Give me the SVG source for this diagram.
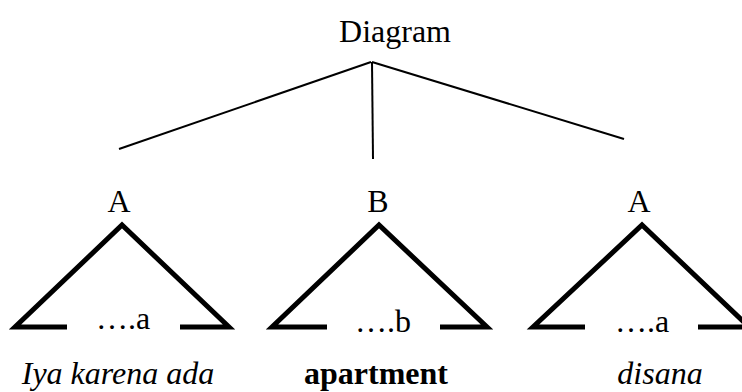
<svg xmlns="http://www.w3.org/2000/svg" width="742" height="392" viewBox="0 0 742 392">
<style>
text{font-family:"Liberation Serif","Times New Roman",serif;font-size:32px;fill:#000;text-anchor:middle}
.it{font-style:italic}
.bd{font-weight:bold}
.conn{stroke:#000;stroke-width:2;fill:none}
.tri{stroke:#000;stroke-width:5;fill:none;stroke-linejoin:miter}
</style>
<rect width="742" height="392" fill="#fff"/>
<g id="root"><text x="395" y="42">Diagram</text></g>
<g id="connectors">
<line class="conn" x1="371" y1="62" x2="119" y2="149"/>
<line class="conn" x1="372" y1="62" x2="373" y2="159"/>
<line class="conn" x1="372" y1="62" x2="624" y2="139"/>
</g>
<g id="nodeA1">
<text x="119" y="212">A</text>
<path class="tri" d="M67,327 L15,327 L122,225 L229,327 L180,327"/>
<text x="123" y="329">….a</text>
<text class="it" x="118" y="384">Iya karena ada</text>
</g>
<g id="nodeB">
<text x="378" y="212">B</text>
<path class="tri" d="M327,327 L272,327 L379,225 L487,327 L440,327"/>
<text x="383" y="332">….b</text>
<text class="bd" x="376" y="384">apartment</text>
</g>
<g id="nodeA2">
<text x="639" y="212">A</text>
<path class="tri" d="M585,327 L533,327 L642,225 L749,327 L698,327"/>
<text x="642" y="332">….a</text>
<text class="it" x="660" y="384">disana</text>
</g>
</svg>
